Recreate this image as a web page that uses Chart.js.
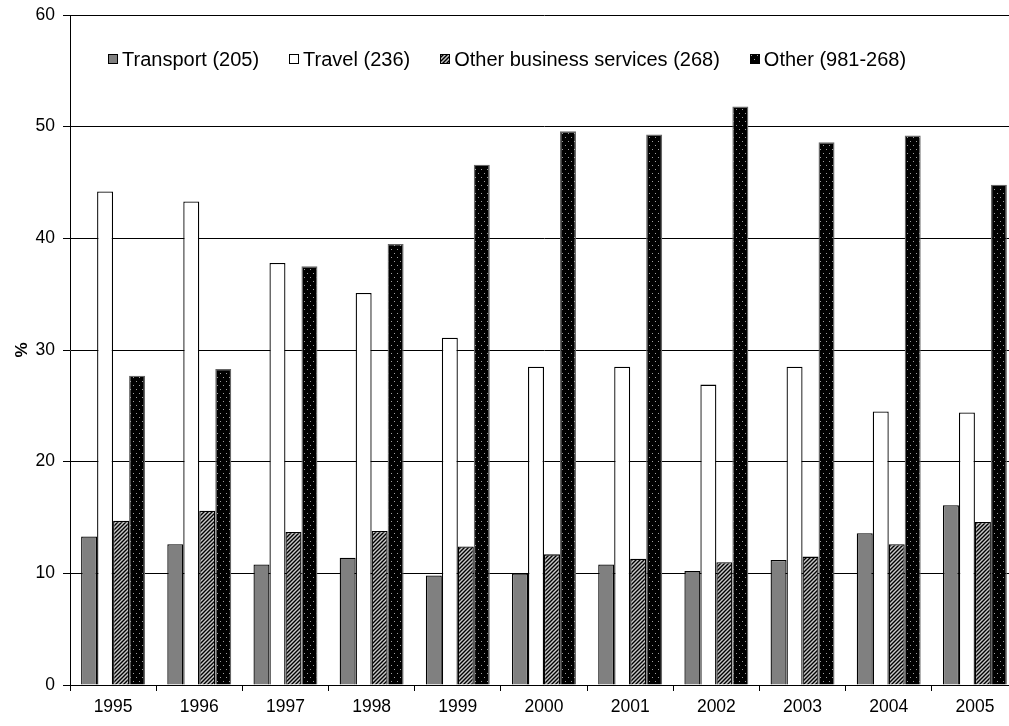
<!DOCTYPE html>
<html>
<head>
<meta charset="utf-8">
<script src="https://cdn.jsdelivr.net/npm/chart.js@4.4.1/dist/chart.umd.min.js"></script>
<style>
  html, body { margin: 0; padding: 0; background: #fff; overflow: hidden; }
  #wrap { position: relative; width: 1020px; height: 726px; }
  #legend { position: absolute; left: 108px; top: 47px; height: 24px; display: flex; align-items: center;
            font: 20px 'Liberation Sans', Arial, sans-serif; color: #000; white-space: nowrap; }
  .item { display: flex; align-items: center; margin-right: 30px; }
  .item canvas { margin-right: 4px; }
</style>
</head>
<body>
<div id="wrap">
  <canvas id="chart" width="1020" height="726"></canvas>
  <div id="legend"></div>
</div>
<script>
// data
const years = ['1995', '1996', '1997', '1998', '1999', '2000', '2001', '2002', '2003', '2004', '2005'];
const transport = [13.3, 12.6, 10.8, 11.4, 9.8, 10.0, 10.8, 10.2, 11.2, 13.6, 16.1];
const travel = [44.2, 43.3, 37.8, 35.1, 31.1, 28.5, 28.5, 26.9, 28.5, 24.5, 24.4];
const otherBusiness = [14.7, 15.6, 13.7, 13.8, 12.4, 11.7, 11.3, 11.0, 11.5, 12.6, 14.6];
const other = [27.7, 28.3, 37.5, 39.5, 46.6, 49.6, 49.3, 51.8, 48.6, 49.2, 44.8];
const seriesNames = ['Transport (205)', 'Travel (236)', 'Other business services (268)', 'Other (981-268)'];
const yTicks = [0, 10, 20, 30, 40, 50, 60];

Chart.defaults.font.family = "'Liberation Sans', Arial, sans-serif";
Chart.defaults.color = '#000';

const canvas = document.getElementById('chart');
const ctx = canvas.getContext('2d');

// diagonal hatch fill
function makeHatch(target) {
    const c = document.createElement('canvas');
    c.width = 4; c.height = 4;
    const g = c.getContext('2d');
    g.fillStyle = '#c8c8c8';
    g.fillRect(0, 0, 4, 4);
    g.strokeStyle = '#000';
    g.lineWidth = 1.4;
    g.beginPath();
    g.moveTo(-1, 5); g.lineTo(5, -1);
    g.moveTo(-1, 1); g.lineTo(1, -1);
    g.moveTo(3, 5); g.lineTo(5, 3);
    g.stroke();
    return target.createPattern(c, 'repeat');
}

// black with small grey dots
function makeDots(target) {
    const c = document.createElement('canvas');
    c.width = 6; c.height = 8;
    const g = c.getContext('2d');
    g.fillStyle = '#000';
    g.fillRect(0, 0, 6, 8);
    g.fillStyle = '#a0a0a0';
    g.fillRect(1, 1, 1, 1);
    g.fillRect(4, 5, 1, 1);
    return target.createPattern(c, 'repeat');
}

const fills = ['#808080', '#ffffff', makeHatch(ctx), makeDots(ctx)];
const borders = ['#000', '#000', '#000', '#666'];
const series = [transport, travel, otherBusiness, other];

// legend (html, sits inside the plot area like the original)
const legend = document.getElementById('legend');
seriesNames.forEach((name, i) => {
    const item = document.createElement('div');
    item.className = 'item';
    const sw = document.createElement('canvas');
    sw.width = 10; sw.height = 10;
    const sg = sw.getContext('2d');
    sg.fillStyle = i == 2 ? makeHatch(sg) : i == 3 ? makeDots(sg) : fills[i];
    sg.fillRect(0, 0, 10, 10);
    sg.strokeStyle = '#000';
    sg.lineWidth = 1;
    sg.strokeRect(0.5, 0.5, 9, 9);
    item.appendChild(sw);
    const label = document.createElement('span');
    label.textContent = name;
    item.appendChild(label);
    legend.appendChild(item);
});

new Chart(ctx, {
    type: 'bar',
    data: {
        labels: years,
        datasets: series.map((d, i) => ({
            label: seriesNames[i],
            data: d,
            backgroundColor: fills[i],
            borderColor: borders[i],
            borderWidth: 1.3,
            borderSkipped: 'start'
        }))
    },
    options: {
        responsive: false,
        animation: false,
        layout: { padding: { top: 15, right: 2, left: 0, bottom: 0 } },
        datasets: { bar: { categoryPercentage: 0.742, barPercentage: 1 } },
        plugins: {
            legend: { display: false },
            tooltip: { enabled: false }
        },
        scales: {
            x: {
                grid: { drawOnChartArea: false, color: '#000', tickLength: 6, offset: true },
                border: { color: '#000' },
                ticks: { color: '#000', font: { size: 17.5 }, padding: 6, maxRotation: 0 },
                afterFit: s => { s.height = 41; s.paddingLeft = 0; s.paddingRight = 0; }
            },
            y: {
                min: 0,
                max: 60,
                afterBuildTicks: s => { s.ticks = yTicks.map(v => ({ value: v })); },
                grid: { color: '#000', tickLength: 7 },
                border: { color: '#000' },
                ticks: { color: '#000', font: { size: 17.5 }, padding: 8 },
                title: {
                    display: true,
                    text: '%',
                    color: '#000',
                    font: { size: 17, weight: 'bold' },
                    padding: { top: 12, bottom: 0 }
                },
                afterFit: s => { s.width = 70; s.paddingTop = 0; s.paddingBottom = 0; }
            }
        }
    }
});
</script>
</body>
</html>
